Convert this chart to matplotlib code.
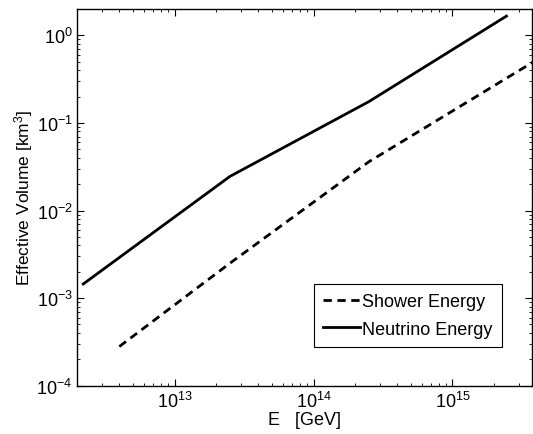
import numpy as np
import matplotlib
matplotlib.use("Agg")
import matplotlib.pyplot as plt
from matplotlib.ticker import LogLocator, NullFormatter

plt.rcParams['font.family'] = ['Liberation Sans', 'DejaVu Sans']
plt.rcParams['mathtext.fontset'] = 'custom'
plt.rcParams['mathtext.rm'] = 'Liberation Sans'
plt.rcParams['mathtext.it'] = 'Liberation Sans'

# Effective volume vs energy
shower_E = [4.0e12, 2.5e13, 2.5e14, 4.0e15]
shower_V = [2.8e-4, 2.5e-3, 3.6e-2, 0.52]
neutrino_E = [2.2e12, 2.5e13, 2.5e14, 2.45e15]
neutrino_V = [1.45e-3, 2.45e-2, 0.175, 1.66]

fig = plt.figure(figsize=(5.33, 4.35), dpi=100)
ax = fig.add_axes([0.1454, 0.111, 0.853, 0.866])

ax.loglog(shower_E, shower_V, color='black', lw=2.0, dashes=(3, 2), label='Shower Energy')
ax.loglog(neutrino_E, neutrino_V, color='black', lw=2.0, label='Neutrino Energy')

ax.set_xlim(2e12, 3.75e15)
ax.set_ylim(1e-4, 2)

ax.xaxis.set_major_locator(LogLocator(base=10, numticks=10))
ax.xaxis.set_minor_locator(LogLocator(base=10, subs=np.arange(2, 10), numticks=10))
ax.xaxis.set_minor_formatter(NullFormatter())
ax.yaxis.set_minor_formatter(NullFormatter())
ax.tick_params(which='both', direction='in', top=True, right=True, labelsize=13)
ax.tick_params(which='major', length=5, width=0.8)
ax.tick_params(which='minor', length=2.5, width=0.6)
for s in ax.spines.values():
    s.set_linewidth(1.0)

ax.set_xlabel('E   [GeV]', fontsize=13, labelpad=0)
ax.set_ylabel('Effective Volume [km$^3$]', fontsize=12.5, labelpad=1)

leg = ax.legend(loc='lower left', bbox_to_anchor=(0.521, 0.1035), fontsize=13,
                frameon=True, fancybox=False, edgecolor='black', framealpha=1,
                handlelength=2.0, handletextpad=0.15, borderpad=0.5, labelspacing=0.6,
                borderaxespad=0)
leg.get_frame().set_linewidth(0.8)

fig.savefig('out.png', dpi=100)
